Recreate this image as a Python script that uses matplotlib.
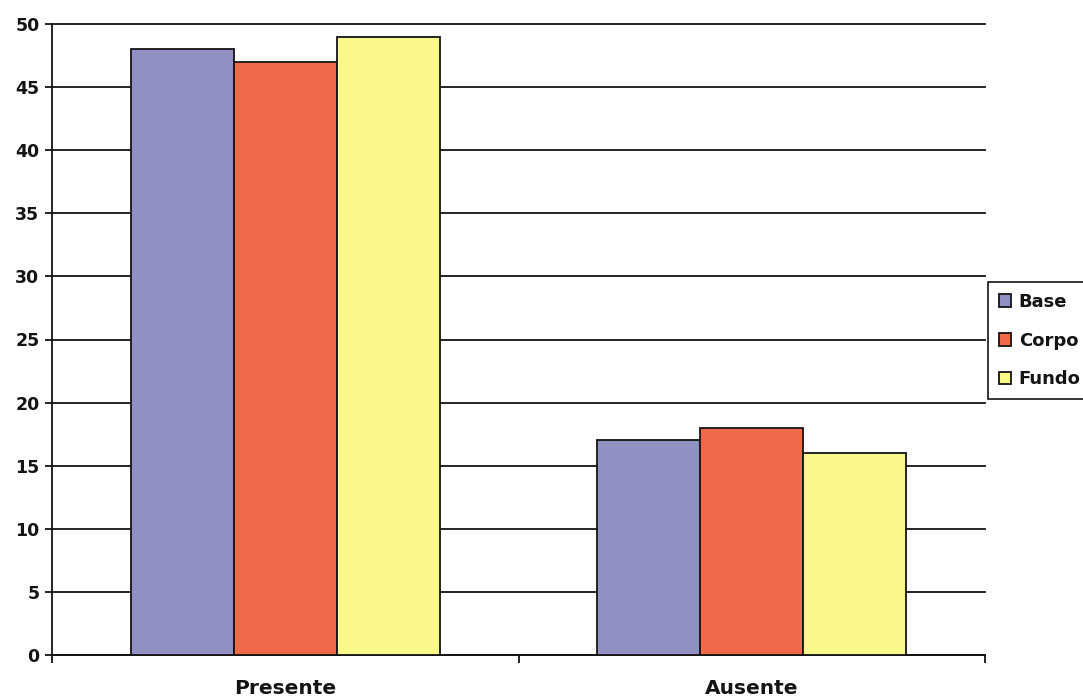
import matplotlib
matplotlib.use("Agg")
import matplotlib.pyplot as plt
import numpy as np

categories = ["Presente", "Ausente"]
series_names = ["Base", "Corpo", "Fundo"]
base_vals = [48, 17]
corpo_vals = [47, 18]
fundo_vals = [49, 16]
y_ticks = [0, 5, 10, 15, 20, 25, 30, 35, 40, 45, 50]

colors = ["#9090c2", "#f06a4a", "#fbf88a"]
ink = "#141414"

plt.rcParams["font.family"] = ["DejaVu Sans"]
plt.rcParams["font.weight"] = "bold"

fig = plt.figure(figsize=(10.83, 6.96), dpi=100)
ax = fig.add_axes([52 / 1083, 41 / 696, (985 - 52) / 1083, (655 - 24) / 696])

x = np.arange(len(categories))
width = 0.221
series = [base_vals, corpo_vals, fundo_vals]
for i, (name, vals, col) in enumerate(zip(series_names, series, colors)):
    ax.bar(x + (i - 1) * width, vals, width, color=col, edgecolor=ink,
           linewidth=1.3, label=name, zorder=3)

ax.set_xlim(-0.5, 1.5)
ax.set_ylim(0, 50)
ax.set_yticks(y_ticks)
ax.set_yticklabels([str(v) for v in y_ticks], fontsize=12.5, fontweight="bold",
                   color=ink)
ax.yaxis.grid(True, color=ink, linewidth=1.3, zorder=0)
for gl in ax.get_ygridlines():
    gl.set_clip_on(False)
ax.set_axisbelow(True)

# group separators as major ticks, category names as minor tick labels
ax.set_xticks([-0.5, 0.5, 1.5])
ax.set_xticklabels(["", "", ""])
ax.set_xticks(x, minor=True)
ax.set_xticklabels(categories, minor=True, fontsize=14.5, fontweight="bold",
                   color=ink)
ax.tick_params(axis="x", which="minor", length=0, pad=17)
ax.tick_params(axis="x", which="major", length=6, width=1.3, direction="out", color=ink)
ax.tick_params(axis="y", length=5, width=1.3, direction="out", color=ink, pad=4)

for s in ["top", "right"]:
    ax.spines[s].set_visible(False)
for s in ["left", "bottom"]:
    ax.spines[s].set_color(ink)
    ax.spines[s].set_linewidth(1.3)

leg = fig.legend(loc="upper left", bbox_to_anchor=(988 / 1083, 1 - 282 / 696),
                 bbox_transform=fig.transFigure, borderaxespad=0,
                 prop={"size": 13, "weight": "bold"}, frameon=True, fancybox=False,
                 edgecolor=ink, framealpha=1, borderpad=0.6,
                 labelspacing=1.15, handlelength=0.7, handleheight=0.7,
                 handletextpad=0.4)
leg.get_frame().set_linewidth(1.2)
for t in leg.get_texts():
    t.set_color(ink)

fig.savefig("out.png", dpi=100)
